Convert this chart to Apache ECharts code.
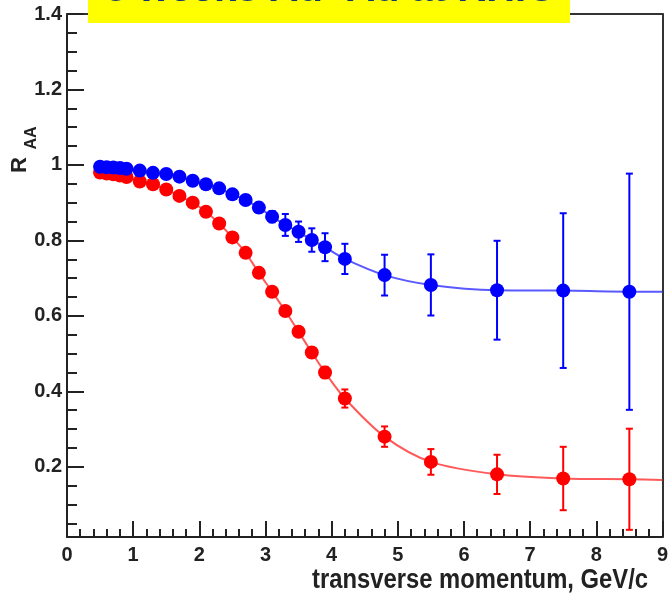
<!DOCTYPE html>
<html>
<head>
<meta charset="utf-8">
<script src="https://cdn.jsdelivr.net/npm/echarts@6/dist/echarts.min.js"></script>
<style>
html,body{margin:0;padding:0;background:#fff;}
#c{width:671px;height:600px;}
</style>
</head>
<body>
<div id="c"></div>
<script>
// ---- data ----
var ptX = [0.5,0.6,0.7,0.8,0.9,1.1,1.3,1.5,1.7,1.9,2.1,2.3,2.5,2.7,2.9,3.1,3.3,3.5,3.7,3.9,4.2,4.8,5.5,6.5,7.5,8.5];
var blueY = [0.995,0.994,0.993,0.992,0.990,0.985,0.979,0.976,0.969,0.958,0.949,0.938,0.922,0.907,0.887,0.863,0.841,0.823,0.801,0.782,0.751,0.708,0.682,0.668,0.667,0.664];
var blueErr = [0.004,0.004,0.004,0.004,0.004,0.005,0.005,0.006,0.007,0.008,0.009,0.010,0.011,0.012,0.013,0.015,0.029,0.027,0.031,0.037,0.040,0.054,0.081,0.131,0.205,0.313];
var redY = [0.980,0.977,0.975,0.972,0.968,0.956,0.949,0.935,0.918,0.900,0.876,0.845,0.808,0.767,0.714,0.664,0.613,0.558,0.503,0.450,0.381,0.280,0.213,0.180,0.169,0.167];
var redErr = [0.003,0.003,0.003,0.003,0.003,0.004,0.004,0.004,0.005,0.005,0.006,0.006,0.007,0.008,0.008,0.009,0.010,0.011,0.012,0.015,0.024,0.027,0.034,0.052,0.084,0.134];
var fitEndX = 9;
var blueFitEnd = 0.664;
var redFitEnd = 0.165;
var yMajorTicks = [0.2,0.4,0.6,0.8,1.0,1.2,1.4];
var yMinorTicks = [0.05,0.1,0.15,0.25,0.3,0.35,0.45,0.5,0.55,0.65,0.7,0.75,0.85,0.9,0.95,1.05,1.1,1.15,1.25,1.3,1.35];
var xTitle = 'transverse momentum, GeV/c';
var bannerText = '3 weeks Au+Au at RHIC';

var FONT = "'Liberation Sans',Arial,sans-serif";
var AX = '#222';

function pairs(xs, ys){ return xs.map(function(x,i){ return [x, ys[i]]; }); }
function triples(xs, ys, es){ return xs.map(function(x,i){ return [x, ys[i], es[i]]; }); }

function errRender(color){
  return function(params, api){
    var x = api.value(0), y = api.value(1), e = api.value(2);
    var t = api.coord([x, y + e]);
    var b = api.coord([x, y - e]);
    var cw = 3.5;
    var st = {stroke: color, lineWidth: 2};
    return {type:'group', children:[
      {type:'line', shape:{x1:t[0],y1:t[1],x2:b[0],y2:b[1]}, style:st},
      {type:'line', shape:{x1:t[0]-cw,y1:t[1],x2:t[0]+cw,y2:t[1]}, style:st},
      {type:'line', shape:{x1:b[0]-cw,y1:b[1],x2:b[0]+cw,y2:b[1]}, style:st}
    ]};
  };
}

var chart = echarts.init(document.getElementById('c'), null, {renderer:'canvas'});
var yMin = 0.014, yMax = 1.4;
chart.setOption({
  animation:false,
  backgroundColor:'#fff',
  grid:{left:67, top:14, right:4, bottom:63, containLabel:false},
  xAxis:[{
    type:'value', min:0, max:9, interval:1, position:'bottom',
    axisLine:{show:true, lineStyle:{color:AX, width:2}},
    axisTick:{show:true, inside:true, length:16, lineStyle:{color:AX, width:2}},
    minorTick:{show:true, splitNumber:5, length:8, lineStyle:{color:AX, width:2}},
    axisLabel:{show:true, margin:8, color:AX, fontFamily:FONT, fontWeight:'bold', fontSize:20},
    splitLine:{show:false}
  },{
    type:'value', min:0, max:9, position:'top',
    axisLine:{show:true, lineStyle:{color:'#333', width:2}},
    axisTick:{show:false}, axisLabel:{show:false}, splitLine:{show:false}
  }],
  yAxis:[{
    type:'value', min:yMin, max:yMax, position:'left',
    axisLine:{show:true, lineStyle:{color:AX, width:2}},
    axisTick:{show:true, inside:true, length:17, customValues:yMajorTicks, lineStyle:{color:AX, width:2}},
    axisLabel:{show:true, margin:5, customValues:yMajorTicks, color:AX, fontFamily:FONT, fontWeight:'bold', fontSize:20,
      formatter:function(v){ return String(+(+v).toFixed(1)); }},
    splitLine:{show:false}
  },{
    type:'value', min:yMin, max:yMax, position:'left', offset:0,
    axisLine:{show:false},
    axisTick:{show:true, inside:true, length:10, customValues:yMinorTicks, lineStyle:{color:AX, width:2}},
    axisLabel:{show:false}, splitLine:{show:false}
  },{
    type:'value', min:yMin, max:yMax, position:'right',
    axisLine:{show:true, lineStyle:{color:'#333', width:2}},
    axisTick:{show:false}, axisLabel:{show:false}, splitLine:{show:false}
  }],
  series:[
    {type:'line', data:pairs(ptX.concat([fitEndX]), redY.concat([redFitEnd])), smooth:0.3, symbol:'none',
      lineStyle:{color:'rgba(255,60,60,0.85)', width:2}, z:1},
    {type:'line', data:pairs(ptX.concat([fitEndX]), blueY.concat([blueFitEnd])), smooth:0.3, symbol:'none',
      lineStyle:{color:'rgba(60,60,255,0.85)', width:2}, z:1},
    {type:'custom', data:triples(ptX, redY, redErr), renderItem:errRender('#ff0000'), z:2},
    {type:'scatter', data:pairs(ptX, redY), symbol:'circle', symbolSize:14, itemStyle:{color:'#ff0000', opacity:1}, z:3},
    {type:'custom', data:triples(ptX, blueY, blueErr), renderItem:errRender('#0000ff'), z:4},
    {type:'scatter', data:pairs(ptX, blueY), symbol:'circle', symbolSize:14, itemStyle:{color:'#0000ff', opacity:1}, z:5}
  ],
  graphic:[
    {type:'rect', left:88, top:0, shape:{width:482, height:23}, style:{fill:'#ffff00'}, z:100},
    {type:'text', x:330, y:10, style:{text:bannerText, fill:'#123a6e', font:'bold 40px Arial, sans-serif', align:'center', verticalAlign:'bottom'}, z:101},
    {type:'text', x:648, y:580, scaleX:0.85, style:{text:xTitle, fill:AX, font:'bold 28px ' + FONT, align:'right', verticalAlign:'middle'}, z:100},
    {type:'text', x:20, y:165, rotation:Math.PI/2, style:{text:'R', fill:AX, font:'bold 22px ' + FONT, align:'center', verticalAlign:'middle'}, z:100},
    {type:'text', x:32, y:138, rotation:Math.PI/2, style:{text:'AA', fill:AX, font:'bold 16px ' + FONT, align:'center', verticalAlign:'middle'}, z:100}
  ]
});
</script>
</body>
</html>
